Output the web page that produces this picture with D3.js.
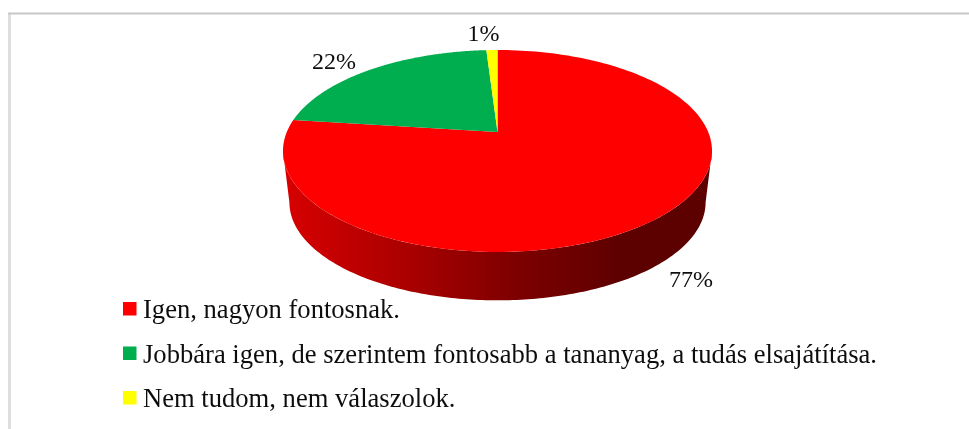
<!DOCTYPE html>
<html><head><meta charset="utf-8">
<script src="https://cdnjs.cloudflare.com/ajax/libs/d3/7.8.5/d3.min.js"></script>
<style>html,body{margin:0;padding:0;background:#fff}svg{display:block}text{font-family:"Liberation Serif",serif;fill:#111}</style>
</head><body><svg id="c" width="969" height="429"></svg>
<script>
const categories=["Igen, nagyon fontosnak.","Jobbára igen, de szerintem fontosabb a tananyag, a tudás elsajátítása.","Nem tudom, nem válaszolok."];
const values=[77,22,1];
const labels=["77%","22%","1%"];
const colors=["#ff0000","#00ad50","#ffff00"];
const svg=d3.select("#c");
const soft=svg.append("defs");
soft.append("filter").attr("id","soft").append("feGaussianBlur").attr("stdDeviation",0.45);
const grad=soft.append("linearGradient").attr("id","side");
[[0,"#d80000"],[0.3,"#a80000"],[0.55,"#7c0000"],[0.8,"#5c0000"],[1,"#5c0000"]].forEach(s=>grad.append("stop").attr("offset",s[0]).attr("stop-color",s[1]));
const root=svg.append("g").attr("filter","url(#soft)");
// frame
root.append("path").attr("d","M9.5,429V13.5").attr("fill","none").attr("stroke","#dedede").attr("stroke-width",3);
root.append("path").attr("d","M8,13.5H969").attr("fill","none").attr("stroke","#c8c8c8").attr("stroke-width",2);
// perspective pie
const cx=497.5,cy=132,d=210.7,b=97.4,c=-0.188;
const proj=(a,k=1,dy=0)=>{const u=Math.sin(a),v=-Math.cos(a),w=1+c*v;
  return [cx+k*d*u/w, cy+dy+k*b*v/w];};
const line=d3.line();
const arcPts=(a0,a1,k,dy)=>d3.range(0,181).map(i=>proj(a0+(a1-a0)*i/180,k,dy));
const pie=d3.pie().sort(null)(values);
// widest points of the projected rim, used for the lower side wall
const k2=0.97,dy2=52;
const wideR=Math.PI/2-Math.asin(c), wideL=2*Math.PI-wideR;
const side=[...arcPts(wideR,wideL,1,0).reverse(),...arcPts(wideR,wideL,k2,dy2)];
root.append("path").attr("d",line(side)+"Z").attr("fill","url(#side)");
root.selectAll("path.slice").data(pie).join("path").attr("class","slice")
 .attr("d",p=>line([[cx,cy],...arcPts(p.startAngle,p.endAngle,1,0)])+"Z")
 .attr("fill",(p,i)=>colors[i]);
// data labels
const labelPos=[[691,287],[334,69],[483.5,41]];
root.selectAll("text.lab").data(labels).join("text").attr("class","lab")
 .attr("x",(t,i)=>labelPos[i][0]).attr("y",(t,i)=>labelPos[i][1])
 .attr("text-anchor","middle").attr("font-size",24).text(t=>t);
// legend
const ly=d3.scalePoint().domain(categories).range([309,398]);
const leg=root.selectAll("g.leg").data(categories).join("g").attr("class","leg")
 .attr("transform",t=>`translate(123,${ly(t)})`);
leg.append("rect").attr("y",-7).attr("width",13.5).attr("height",13.5).attr("fill",(t,i)=>colors[i]);
leg.append("text").attr("x",20).attr("y",9).attr("font-size",26.6).text(t=>t);
</script></body></html>
